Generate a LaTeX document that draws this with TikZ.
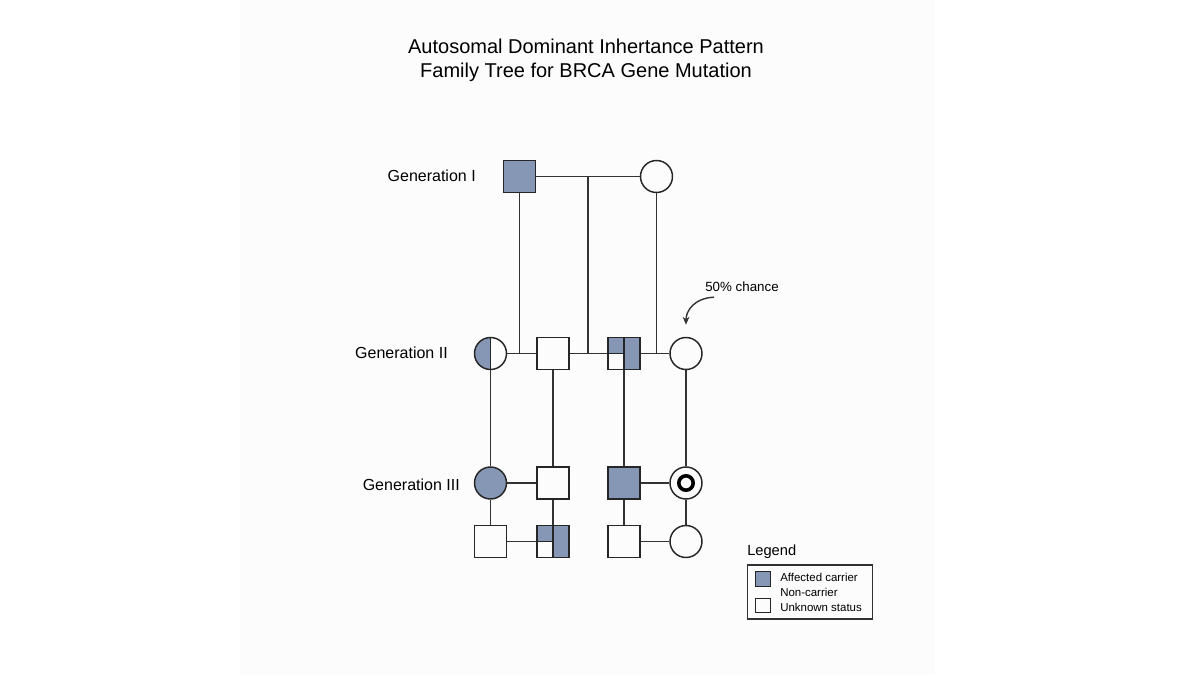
\documentclass[tikz,border=0pt]{standalone}
\usepackage{fontspec}
\setmainfont{Liberation Sans}
\usetikzlibrary{calc,arrows.meta}
\definecolor{ccarrier}{RGB}{133,151,181}
\definecolor{cpanel}{RGB}{252,252,252}
\tikzset{
  person/.style={draw=black!85,line width=1.1pt,inner sep=0pt,minimum size=24pt},
  male/.style={person,rectangle},
  female/.style={person,circle},
  affected/.style={fill=ccarrier},
  % left half shaded circle
  halfcirc/.style={female,path picture={
      \fill[ccarrier] (path picture bounding box.north west) rectangle (path picture bounding box.south);
      \draw[black!85,line width=1.1pt] (path picture bounding box.north) -- (path picture bounding box.south);}},
  % square with top left quarter and right half shaded
  quartsq/.style={male,path picture={
      \fill[ccarrier] (path picture bounding box.north) rectangle (path picture bounding box.south east);
      \fill[ccarrier] (path picture bounding box.north west) rectangle (path picture bounding box.center);
      \draw[black!85,line width=1.1pt] (path picture bounding box.north) -- (path picture bounding box.south)
        (path picture bounding box.west) -- (path picture bounding box.center);}},
  % circle with a heavy inner ring
  ringcirc/.style={female,path picture={
      \draw[black,line width=2.7pt] (path picture bounding box.center) circle[radius=5.4pt];}},
  link/.style={black!80,line width=1.05pt},
  genlabel/.style={anchor=east,inner sep=0pt,font=\fontsize{12}{14}\selectfont},
  legtext/.style={anchor=west,inner sep=0pt,font=\fontsize{8.6}{10}\selectfont}
}

\begin{document}
\begin{tikzpicture}[x=0.75pt,y=-0.75pt]

  % Explicit bounding box (pixel grid of the reference).
  \path[use as bounding box] (0,0) rectangle (1200,675);
  \fill[cpanel] (240,0) rectangle (935,675);

  % ---------------- Title ----------------
  \node[align=center,font=\fontsize{15}{18}\selectfont] (title) at (586,60)
    {Autosomal Dominant Inhertance Pattern\\Family Tree for BRCA Gene Mutation};

  % ---------------- Generation I ----------------
  \node[genlabel] (lblI) at (476,176) {Generation I};
  \node[male,affected] (gIa) at (519.5,176.5) {};
  \node[female] (gIb) at (656.5,176.5) {};
  \draw[link] (gIa) -- (gIb);

  % ---------------- Generation II ----------------
  \node[genlabel] (lblII) at (448,353) {Generation II};
  \node[halfcirc] (gIIa) at (490.5,353.5) {};
  \node[male] (gIIb) at (553,353.5) {};
  \node[quartsq] (gIIc) at (624,353.5) {};
  \node[female] (gIId) at (686,353.5) {};
  \draw[link] (gIIa) -- (gIIb);
  \draw[link] (gIIb) -- (gIIc);
  \draw[link] (gIIc) -- (gIId);

  % descent lines from generation I
  \coordinate (dropA) at (gIa.south |- gIIa);
  \coordinate (dropB) at (588,176.5);
  \coordinate (dropC) at (gIb.south |- gIIa);
  \draw[link] (gIa) -- (dropA);
  \draw[link] (dropB) -- (dropB |- gIIa);
  \draw[link] (gIb) -- (dropC);

  % 50% note
  \node[inner sep=0pt,font=\fontsize{10}{12}\selectfont] (chance) at (742,287) {50\% chance};
  \draw[link,-{Stealth[length=6pt,width=5pt]}] (chance.south west) ++(9,5)
    .. controls +(-20,1) and +(0,-14) .. ($(gIId.north)+(0,-12)$);

  % ---------------- Generation III ----------------
  \node[genlabel] (lblIII) at (460,485) {Generation III};
  \node[female,affected] (gIIIa) at (490.5,483) {};
  \node[male] (gIIIb) at (553,483) {};
  \node[male,affected] (gIIIc) at (624,483) {};
  \node[ringcirc] (gIIId) at (686,483) {};
  \draw[link] (gIIIa) -- (gIIIb);
  \draw[link] (gIIIc) -- (gIIId);
  \draw[link] (gIIa) -- (gIIIa);
  \draw[link] (gIIb) -- (gIIIb);
  \draw[link] (gIIc) -- (gIIIc);
  \draw[link] (gIId) -- (gIIId);

  % ---------------- Lower row ----------------
  \node[male] (gIVa) at (490.5,541.5) {};
  \node[quartsq] (gIVb) at (553,541.5) {};
  \node[male] (gIVc) at (624,541.5) {};
  \node[female] (gIVd) at (686,541.5) {};
  \draw[link] (gIVa) -- (gIVb);
  \draw[link] (gIVc) -- (gIVd);
  \draw[link] (gIIIa) -- (gIVa);
  \draw[link] (gIIIb) -- (gIVb);
  \draw[link] (gIIIc) -- (gIVc);
  \draw[link] (gIIId) -- (gIVd);

  % ---------------- Legend ----------------
  \node[anchor=west,inner sep=0pt,font=\fontsize{11}{13}\selectfont] (legtitle) at (747,552) {Legend};
  \node[draw=black!80,line width=0.9pt,minimum width=94pt,minimum height=40.5pt,inner sep=0pt] (legbox) at (810,592) {};
  \node[draw=black!85,line width=0.9pt,fill=ccarrier,minimum size=11pt,inner sep=0pt] (legA) at (763,579) {};
  \node[draw=black!85,line width=0.9pt,minimum size=11pt,inner sep=0pt] (legC) at (763,605.5) {};
  \node[legtext] (txtA) at (780,577) {Affected carrier};
  \node[legtext] (txtB) at (780,592) {Non-carrier};
  \node[legtext] (txtC) at (780,607) {Unknown status};

\end{tikzpicture}
\end{document}
